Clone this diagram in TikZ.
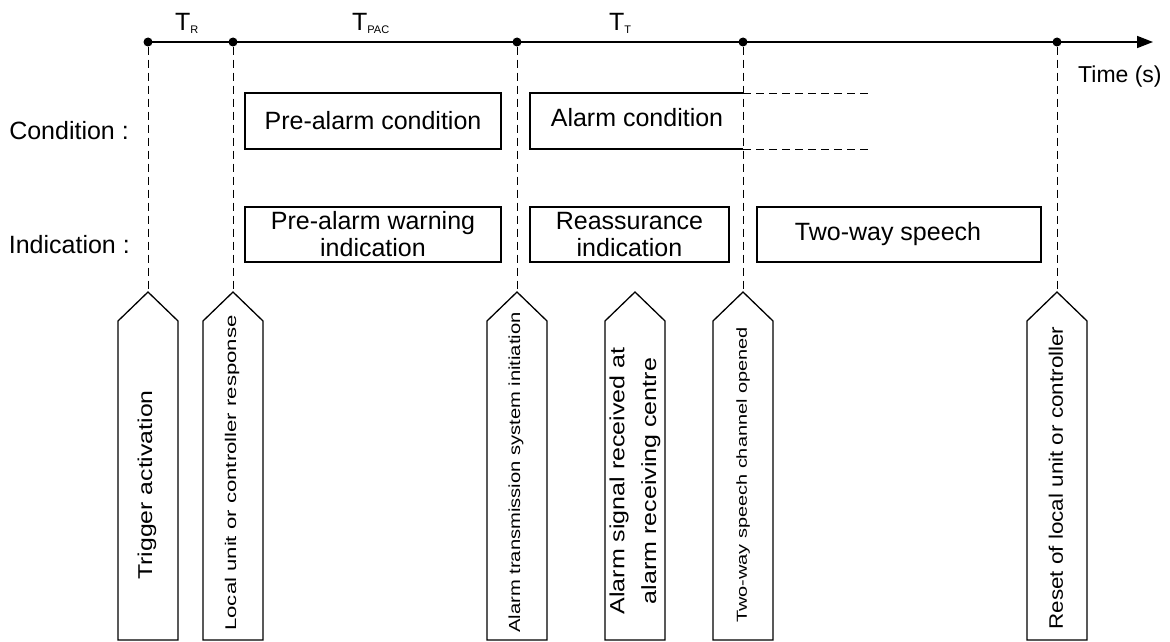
\documentclass[tikz,border=0pt]{standalone}
\usepackage{fontspec}
\setmainfont{Liberation Sans}
\usetikzlibrary{arrows.meta}
\begin{document}
\begin{tikzpicture}[x=1pt,y=-1pt,
  dot/.style={circle,fill=black,inner sep=0pt,minimum size=9pt},
  tl/.style={line width=1.6pt},
  guide/.style={dash pattern=on 8pt off 5pt,line width=1pt},
  boxnode/.style={draw,line width=1.3pt,inner sep=0pt,font=\fontsize{25}{27}\selectfont,align=center},
  evt/.style={line width=1.3pt,line join=miter},
  lbl/.style={font=\fontsize{25}{27}\selectfont},
  subtxt/.style={font=\fontsize{11}{11}\selectfont},
  vtext/.style={rotate=90,inner sep=0pt,align=center}
]
\useasboundingbox (0,0) rectangle (1170,642);

% timeline
\node[dot] (d1) at (148,42) {};
\node[dot] (d2) at (233,42) {};
\node[dot] (d3) at (517,42) {};
\node[dot] (d4) at (743,42) {};
\node[dot] (d5) at (1057,42) {};
\coordinate (tend) at (1153,42);
\draw[tl,-{Triangle[length=16pt,width=12pt]}] (d1.center) -- (tend);

\node[lbl,anchor=base west,inner sep=0pt] (tr) at (175,31) {T\raisebox{-3pt}{\fontsize{11}{11}\selectfont R}};
\node[lbl,anchor=base west,inner sep=0pt] (tpac) at (352,31) {T\raisebox{-3pt}{\fontsize{11}{11}\selectfont PAC}};
\node[lbl,anchor=base west,inner sep=0pt] (tt) at (609,31) {T\raisebox{-3pt}{\fontsize{11}{11}\selectfont T}};
\node[anchor=west,inner sep=0pt,font=\fontsize{23}{23}\selectfont] (tm) at (1078,77) {Time (s)};

% row labels
\node[lbl,anchor=east,inner sep=0pt] (cl) at (129,131) {Condition :};
\node[lbl,anchor=east,inner sep=0pt] (il) at (130,245) {Indication :};

% condition row
\node[boxnode,minimum width=256pt,minimum height=56pt] (pc) at (373,121) {Pre-alarm condition};
\coordinate (ac1) at (743,93);
\coordinate (ac2) at (530,93);
\coordinate (ac3) at (530,149);
\coordinate (ac4) at (743,149);
\coordinate (ac5) at (872,93);
\coordinate (ac6) at (872,149);
\draw[evt] (ac1) -- (ac2) -- (ac3) -- (ac4);
\draw[guide] (ac1) -- (ac5);
\draw[guide] (ac4) -- (ac6);
\node[lbl] (ac) at (637,118) {Alarm condition};

% indication row
\node[boxnode,minimum width=256pt,minimum height=55pt] (pw) at (373,234.5) {Pre-alarm warning\\indication};
\node[boxnode,minimum width=199pt,minimum height=55pt] (ri) at (629.5,234.5) {Reassurance\\indication};
\node[boxnode,minimum width=284pt,minimum height=55pt] (tw) at (899,234.5) {Two-way speech\hspace*{22pt}};

% event markers
\foreach \n/\x in {1/148,2/233,3/517,4/635,5/743,6/1057}{
  \coordinate (tip\n) at (\x,292);
  \draw[evt] (\x-30,640) -- (\x-30,321) -- (tip\n) -- (\x+30,321) -- (\x+30,640) -- cycle;
}
\draw[guide] (d1) -- (tip1);
\draw[guide] (d2) -- (tip2);
\draw[guide] (d3) -- (tip3);
\draw[guide] (d4) -- (tip5);
\draw[guide] (d5) -- (tip6);

\node[vtext,font=\fontsize{20}{24}\selectfont] (e1) at (147,485) {\scalebox{1.24}[1]{Trigger activation}};
\node[vtext,font=\fontsize{15.5}{18}\selectfont] (e2) at (232,473) {\scalebox{1.43}[1]{Local unit or controller response}};
\node[vtext,font=\fontsize{16}{19}\selectfont] (e3) at (516,472.5) {\scalebox{1.26}[1]{Alarm transmission system initiation}};
\node[vtext,font=\fontsize{20.5}{31.7}\selectfont] (e4) at (635,481) {\scalebox{1.22}[1]{Alarm signal received at}\\\scalebox{1.22}[1]{alarm receiving centre}};
\node[vtext,font=\fontsize{14.5}{17}\selectfont] (e5) at (743,475) {\scalebox{1.375}[1]{Two-way speech channel opened}};
\node[vtext,font=\fontsize{19.5}{23}\selectfont] (e6) at (1056,478) {\scalebox{1.15}[1]{Reset of local unit or controller}};
\end{tikzpicture}
\end{document}
